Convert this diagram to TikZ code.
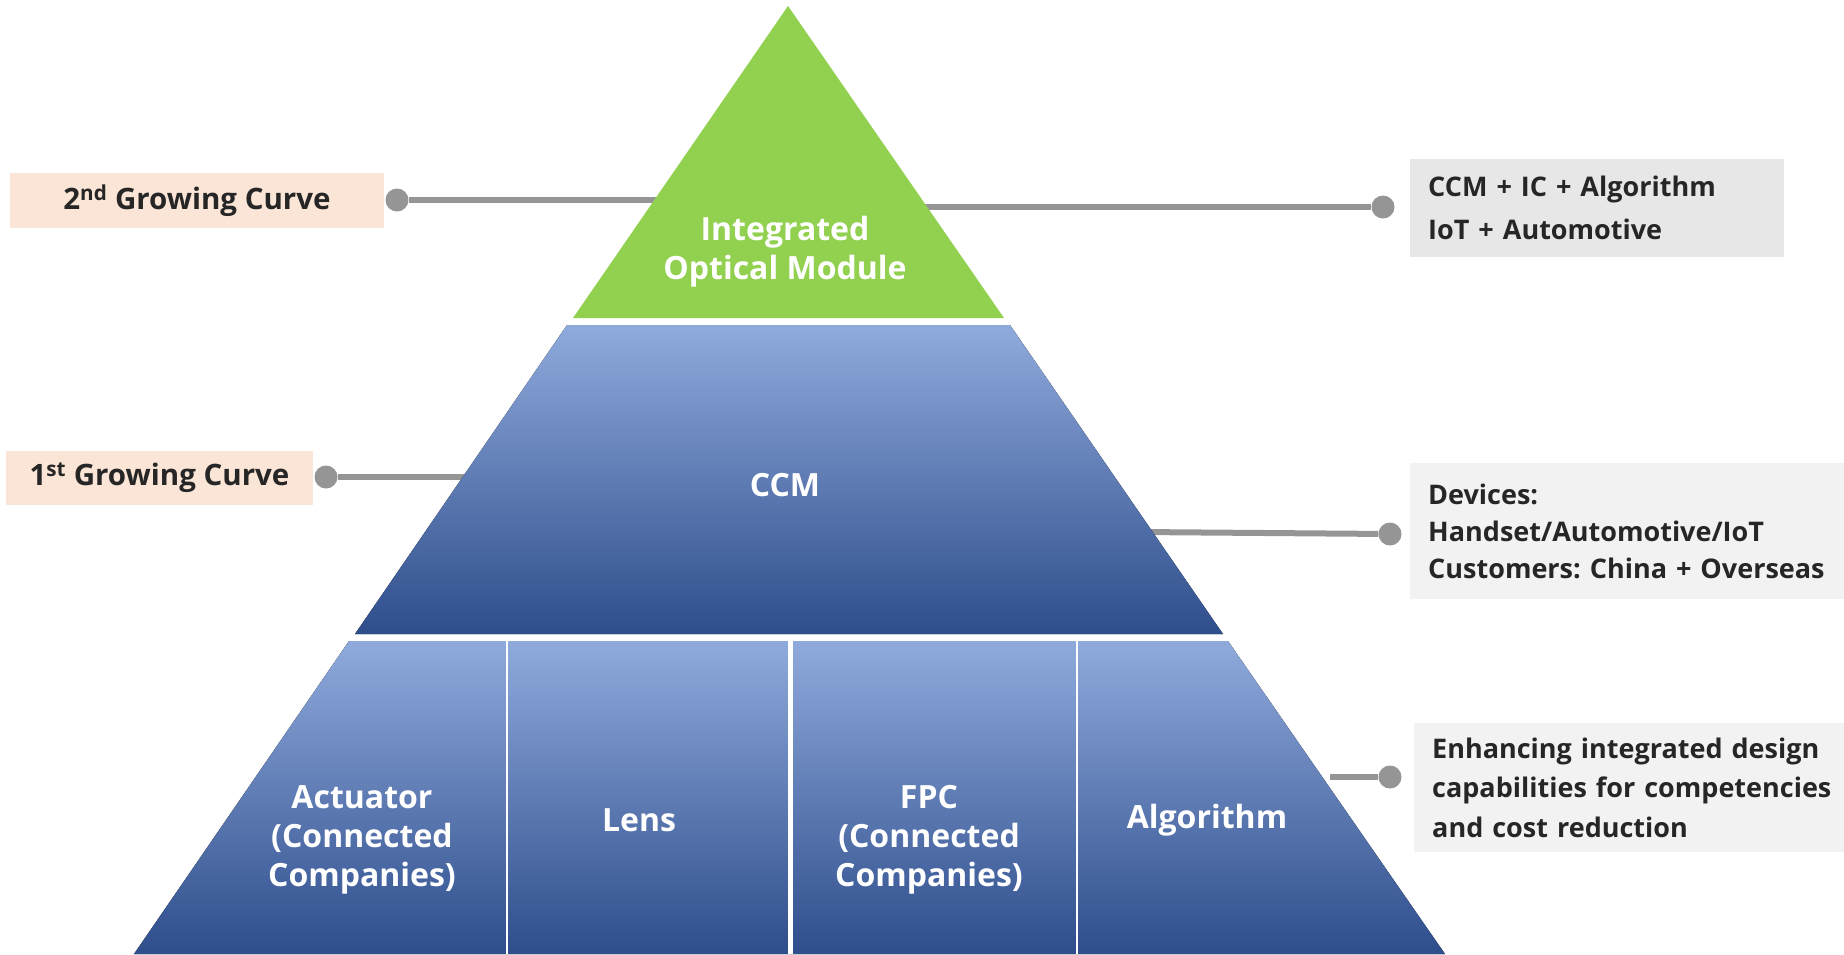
\documentclass[tikz,border=0pt]{standalone}
\usepackage{fontspec}
\setmainfont{Open Sans}
\usetikzlibrary{positioning}
\definecolor{topgreen}{HTML}{92D050}
\definecolor{bluetop}{HTML}{8FAADC}
\definecolor{bluemid}{HTML}{4472C4}
\definecolor{bluebot}{HTML}{2E4D8B}
\definecolor{peach}{HTML}{FBE5D6}
\definecolor{greybox}{HTML}{E7E7E7}
\definecolor{lightbox}{HTML}{F2F2F2}
\definecolor{linegrey}{HTML}{959595}
\definecolor{darktext}{HTML}{262626}
\tikzset{
  curve/.style = {fill=peach, text=darktext, inner sep=0pt, font=\bfseries\fontsize{29.5}{34}\selectfont},
  note/.style = {anchor=west, inner xsep=18pt, inner ysep=0pt, align=left, text=darktext, font=\bfseries\fontsize{27}{#1}\selectfont},
  note/.default = 39.5,
  dot/.style = {circle, fill=linegrey, inner sep=0pt, minimum size=23pt},
  conn/.style = {draw=linegrey, line width=6pt},
  band/.style = {top color=bluetop, middle color=bluemid, bottom color=bluebot},
  label/.style = {text=white, align=center, font=\bfseries\fontsize{32}{39}\selectfont}
}
\begin{document}
\frenchspacing
\begin{tikzpicture}[x=1pt, y=-1pt]
  \useasboundingbox (0,0) rectangle (1844,954);

  % boxes on the left
  \node[curve, minimum width=374pt, minimum height=55pt] (second) at (197,200.5) {2\textsuperscript{nd} Growing Curve};
  \node[curve, minimum width=307pt, minimum height=54pt] (first) at (159.5,478) {1\textsuperscript{st} Growing Curve};

  % boxes on the right
  \node[note=43, fill=greybox, text width=338pt, minimum height=98pt] (ic) at (1410,208) {CCM + IC + Algorithm\\IoT + Automotive};
  \node[note=37, fill=lightbox, text width=440pt, minimum height=136pt] (dev) at (1410,531) {Devices:\\Handset/Automotive/IoT\\Customers: China + Overseas};
  \node[note, fill=lightbox, text width=440pt, minimum height=129pt] (cost) at (1414,787.5) {Enhancing integrated design\\capabilities for competencies\\and cost reduction};

  % dots
  \node[dot] (d1) at (397,200) {};
  \node[dot] (d2) at (1383,207) {};
  \node[dot] (d3) at (326,477) {};
  \node[dot] (d4) at (1390,534) {};
  \node[dot] (d5) at (1390,777) {};

  \coordinate (e1) at (670,200);
  \coordinate (e2) at (915,207);
  \coordinate (e3) at (480,477);
  \coordinate (e4) at (1140,532);
  \coordinate (e5) at (1330,777);

  \draw[conn] (d1) -- (e1);
  \draw[conn] (d2) -- (e2);
  \draw[conn] (d3) -- (e3);
  \draw[conn] (d4) -- (e4);
  \draw[conn] (d5) -- (e5);

  % pyramid
  \fill[topgreen] (788,6) -- (1004,318) -- (573,318) -- cycle;
  \fill[band] (567,325) -- (1010,325) -- (1223,634) -- (355,634) -- cycle;
  \fill[band] (349,641) -- (1228,641) -- (1445,954) -- (134,954) -- cycle;
  \draw[white, line width=2.5pt] (507,641) -- (507,954);
  \draw[white, line width=5pt] (790,641) -- (790,954);
  \draw[white, line width=2.5pt] (1077,641) -- (1077,954);

  \node[label] (iom) at (785,252) {Integrated\\Optical Module};
  \node[label] (ccm) at (785,485) {CCM};
  \node[label] (act) at (362,840) {Actuator\\(Connected\\Companies)};
  \node[label] (lens) at (639,820) {Lens};
  \node[label] (fpc) at (929,840) {FPC\\(Connected\\Companies)};
  \node[label] (algo) at (1207,820) {Algorithm};
\end{tikzpicture}
\end{document}
